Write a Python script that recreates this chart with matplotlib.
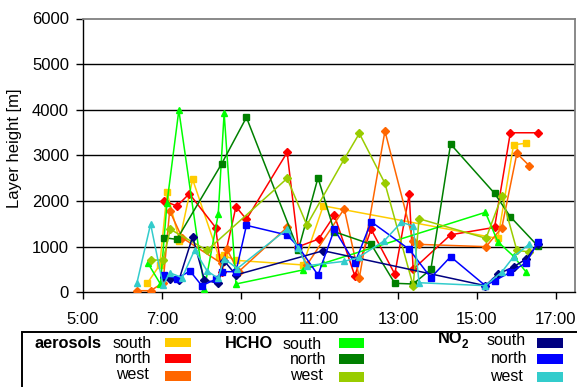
import matplotlib
matplotlib.use("Agg")
import matplotlib.pyplot as plt
from matplotlib.patches import Rectangle

plt.rcParams['font.family'] = ['Liberation Sans', 'DejaVu Sans']

# ---- measured layer heights [m] along the day, per instrument and viewing direction ----
aer_south_t = ["6:38", "6:57", "7:08", "7:27", "7:47", "8:27", "8:35", "8:53", "10:35", "11:06",
               "15:32", "15:56", "16:15"]
aer_south_h = [200, 600, 2190, 1130, 2475, 780, 810, 700, 600, 1895, 1180, 3235, 3265]

aer_north_t = ["7:04", "7:23", "7:42", "8:22", "8:31", "8:53", "9:09", "10:11", "10:28", "10:59",
               "11:23", "11:54", "12:19", "12:55", "13:17", "13:23", "14:20", "15:27", "15:51", "16:33"]
aer_north_h = [2000, 1890, 2160, 1420, 450, 1875, 1600, 3065, 1000, 1167,
               1686, 365, 1380, 400, 2150, 505, 1260, 1423, 3496, 3496]

aer_west_t = ["6:22", "6:43", "7:02", "7:12", "7:31", "8:31", "8:39", "8:57", "10:11", "10:28",
              "10:41", "11:38", "12:01", "12:40", "13:23", "13:32", "15:14", "15:38", "16:01", "16:20"]
aer_west_h = [35, 35, 210, 1787, 1196, 635, 948, 451, 1424, 985,
              598, 1831, 320, 3533, 1130, 1050, 1000, 1415, 3044, 2773]

hcho_south_t = ["6:39", "6:58", "7:08", "7:26", "8:05", "8:26", "8:35", "8:53", "10:35", "11:06",
                "15:13", "15:32", "15:56", "16:15"]
hcho_south_h = [635, 180, 1965, 3990, 80, 1710, 3930, 182, 490, 635, 1752, 1108, 790, 445]

hcho_north_t = ["7:04", "7:23", "8:31", "9:09", "10:28", "10:58", "11:23", "12:19", "12:55", "13:23",
                "13:50", "14:20", "15:27", "15:51", "16:33"]
hcho_north_h = [1196, 1160, 2810, 3833, 926, 2510, 1327, 1051, 197, 182,
                504, 3248, 2168, 1656, 1014]

hcho_west_t = ["6:43", "7:02", "7:13", "8:09", "10:11", "10:41", "11:38", "12:01", "12:40", "13:23",
               "13:32", "15:14", "15:38", "16:01", "16:20"]
hcho_west_h = [707, 707, 1380, 920, 2496, 1474, 2920, 3482, 2387, 145,
               1612, 1183, 2109, 918, 886]

no2_south_t = ["7:04", "7:12", "7:26", "7:47", "8:05", "8:26", "8:35", "8:53", "11:06", "15:13",
               "15:32", "15:56", "16:15", "16:33"]
no2_south_h = [330, 300, 260, 1218, 270, 197, 690, 380, 911, 145, 397, 558, 730, 1060]

no2_north_t = ["7:04", "7:23", "7:43", "8:01", "8:22", "8:31", "8:53", "9:09", "10:11", "10:28",
               "10:58", "11:23", "11:54", "12:19", "13:17", "13:50", "14:20", "15:13", "15:27", "15:51",
               "16:15", "16:33"]
no2_north_h = [379, 300, 467, 145, 285, 452, 452, 1467, 1255, 1000,
               379, 1380, 635, 1546, 942, 320, 780, 145, 254, 438, 648, 1095]

no2_west_t = ["6:22", "6:43", "7:02", "7:12", "7:31", "7:50", "8:09", "8:26", "8:35", "8:55",
              "10:11", "10:28", "10:41", "11:38", "12:00", "12:39", "13:05", "13:23", "13:32", "15:13",
              "15:38", "15:56", "16:20"]
no2_west_h = [197, 1496, 150, 430, 320, 926, 470, 305, 740, 520,
              1386, 963, 583, 678, 766, 1130, 1535, 1452, 210, 145, 445, 780, 1058]

x_tick_hours = [5, 7, 9, 11, 13, 15, 17]
x_tick_labels = ["5:00", "7:00", "9:00", "11:00", "13:00", "15:00", "17:00"]
y_ticks = [0, 1000, 2000, 3000, 4000, 5000, 6000]

groups = ["aerosols", "HCHO", "NO2"]
directions = ["south", "north", "west"]


def hours(stamp):
    h, m = stamp.split(":")
    return int(h) + int(m) / 60.0


series = [
    (aer_south_t, aer_south_h, "#FFCC00", "s", 4.2),
    (aer_north_t, aer_north_h, "#FF0000", "D", 3.6),
    (aer_west_t, aer_west_h, "#FF6600", "D", 3.6),
    (hcho_south_t, hcho_south_h, "#00FF00", "^", 4.4),
    (hcho_north_t, hcho_north_h, "#008000", "s", 4.2),
    (hcho_west_t, hcho_west_h, "#99CC00", "D", 3.6),
    (no2_south_t, no2_south_h, "#000080", "D", 3.6),
    (no2_north_t, no2_north_h, "#0000FF", "s", 4.2),
    (no2_west_t, no2_west_h, "#33CCCC", "^", 4.4),
]

W, H = 577, 387
fig = plt.figure(figsize=(W / 100, H / 100), dpi=100)
fig.patch.set_facecolor("white")


def fx(px):
    return px / W


def fy(py):
    return 1 - py / H


ax = fig.add_axes([fx(83), fy(292.3), fx(575.3) - fx(83), fy(18.5) - fy(292.3)])

for t, h, col, mk, ms in series:
    ax.plot([hours(s) for s in t], h, color=col, lw=1.1, marker=mk, ms=ms,
            mfc=col, mec=col, zorder=3)

ax.set_xlim(5, 17.5)
ax.set_ylim(0, 6000)
ax.set_xticks(x_tick_hours)
ax.set_xticklabels(x_tick_labels)
ax.set_yticks(y_ticks)
ax.set_yticklabels([str(v) for v in y_ticks])
ax.tick_params(axis="x", direction="out", length=5, width=1, pad=9, labelsize=12, colors="black")
ax.tick_params(axis="y", direction="out", length=5, width=1, pad=5, labelsize=12, colors="black")

# horizontal gridlines between the bottom axis and the top frame
for v in y_ticks[1:-1]:
    ax.axhline(v, color="black", lw=1, zorder=1)

for side in ("left", "bottom"):
    ax.spines[side].set_color("black")
    ax.spines[side].set_linewidth(1)
for side in ("top", "right"):
    ax.spines[side].set_color("#808080")
    ax.spines[side].set_linewidth(1.3)

fig.text(fx(15), fy(148), "Layer height [m]", rotation=90, ha="center", va="center", fontsize=12)

# ---- legend panel ----
fig.patches.append(Rectangle((fx(22.3), fy(420)), fx(640) - fx(22.3), fy(331.7) - fy(420),
                             transform=fig.transFigure, fill=False, ec="black", lw=1.4))

colors = [s[2] for s in series]
group_title_x = [34.3, 225.0, 437.9]
label_x = [[112.3, 115.0, 115.7], [282.6, 290.0, 290.0], [486.8, 490.5, 490.5]]
label_base = [[348.3, 363.3, 379.3], [349.3, 364.0, 380.0], [345.0, 363.3, 380.7]]
swatch_x = [165.0, 338.5, 537.3]
swatch_top = [[337.7, 353.7, 371.0], [338.3, 354.3, 372.0], [338.3, 354.0, 372.3]]

for g in range(3):
    if groups[g] == "NO2":
        fig.text(fx(group_title_x[g]), fy(343.3), "NO", fontsize=11.8, fontweight="bold",
                 ha="left", va="baseline")
        fig.text(fx(462.0), fy(348.3), "2", fontsize=8.5, fontweight="bold",
                 ha="left", va="baseline")
    else:
        fig.text(fx(group_title_x[g]), fy(348.3), groups[g], fontsize=11.8, fontweight="bold",
                 ha="left", va="baseline")
    for d in range(3):
        fig.text(fx(label_x[g][d]), fy(label_base[g][d]), directions[d], fontsize=11.5,
                 ha="left", va="baseline")
        top = swatch_top[g][d]
        fig.patches.append(Rectangle((fx(swatch_x[g]), fy(top + 9.6)), fx(25.7), 9.6 / H,
                                     transform=fig.transFigure, fc=colors[g * 3 + d], ec="none"))

fig.savefig("out.png", dpi=100, facecolor="white")
